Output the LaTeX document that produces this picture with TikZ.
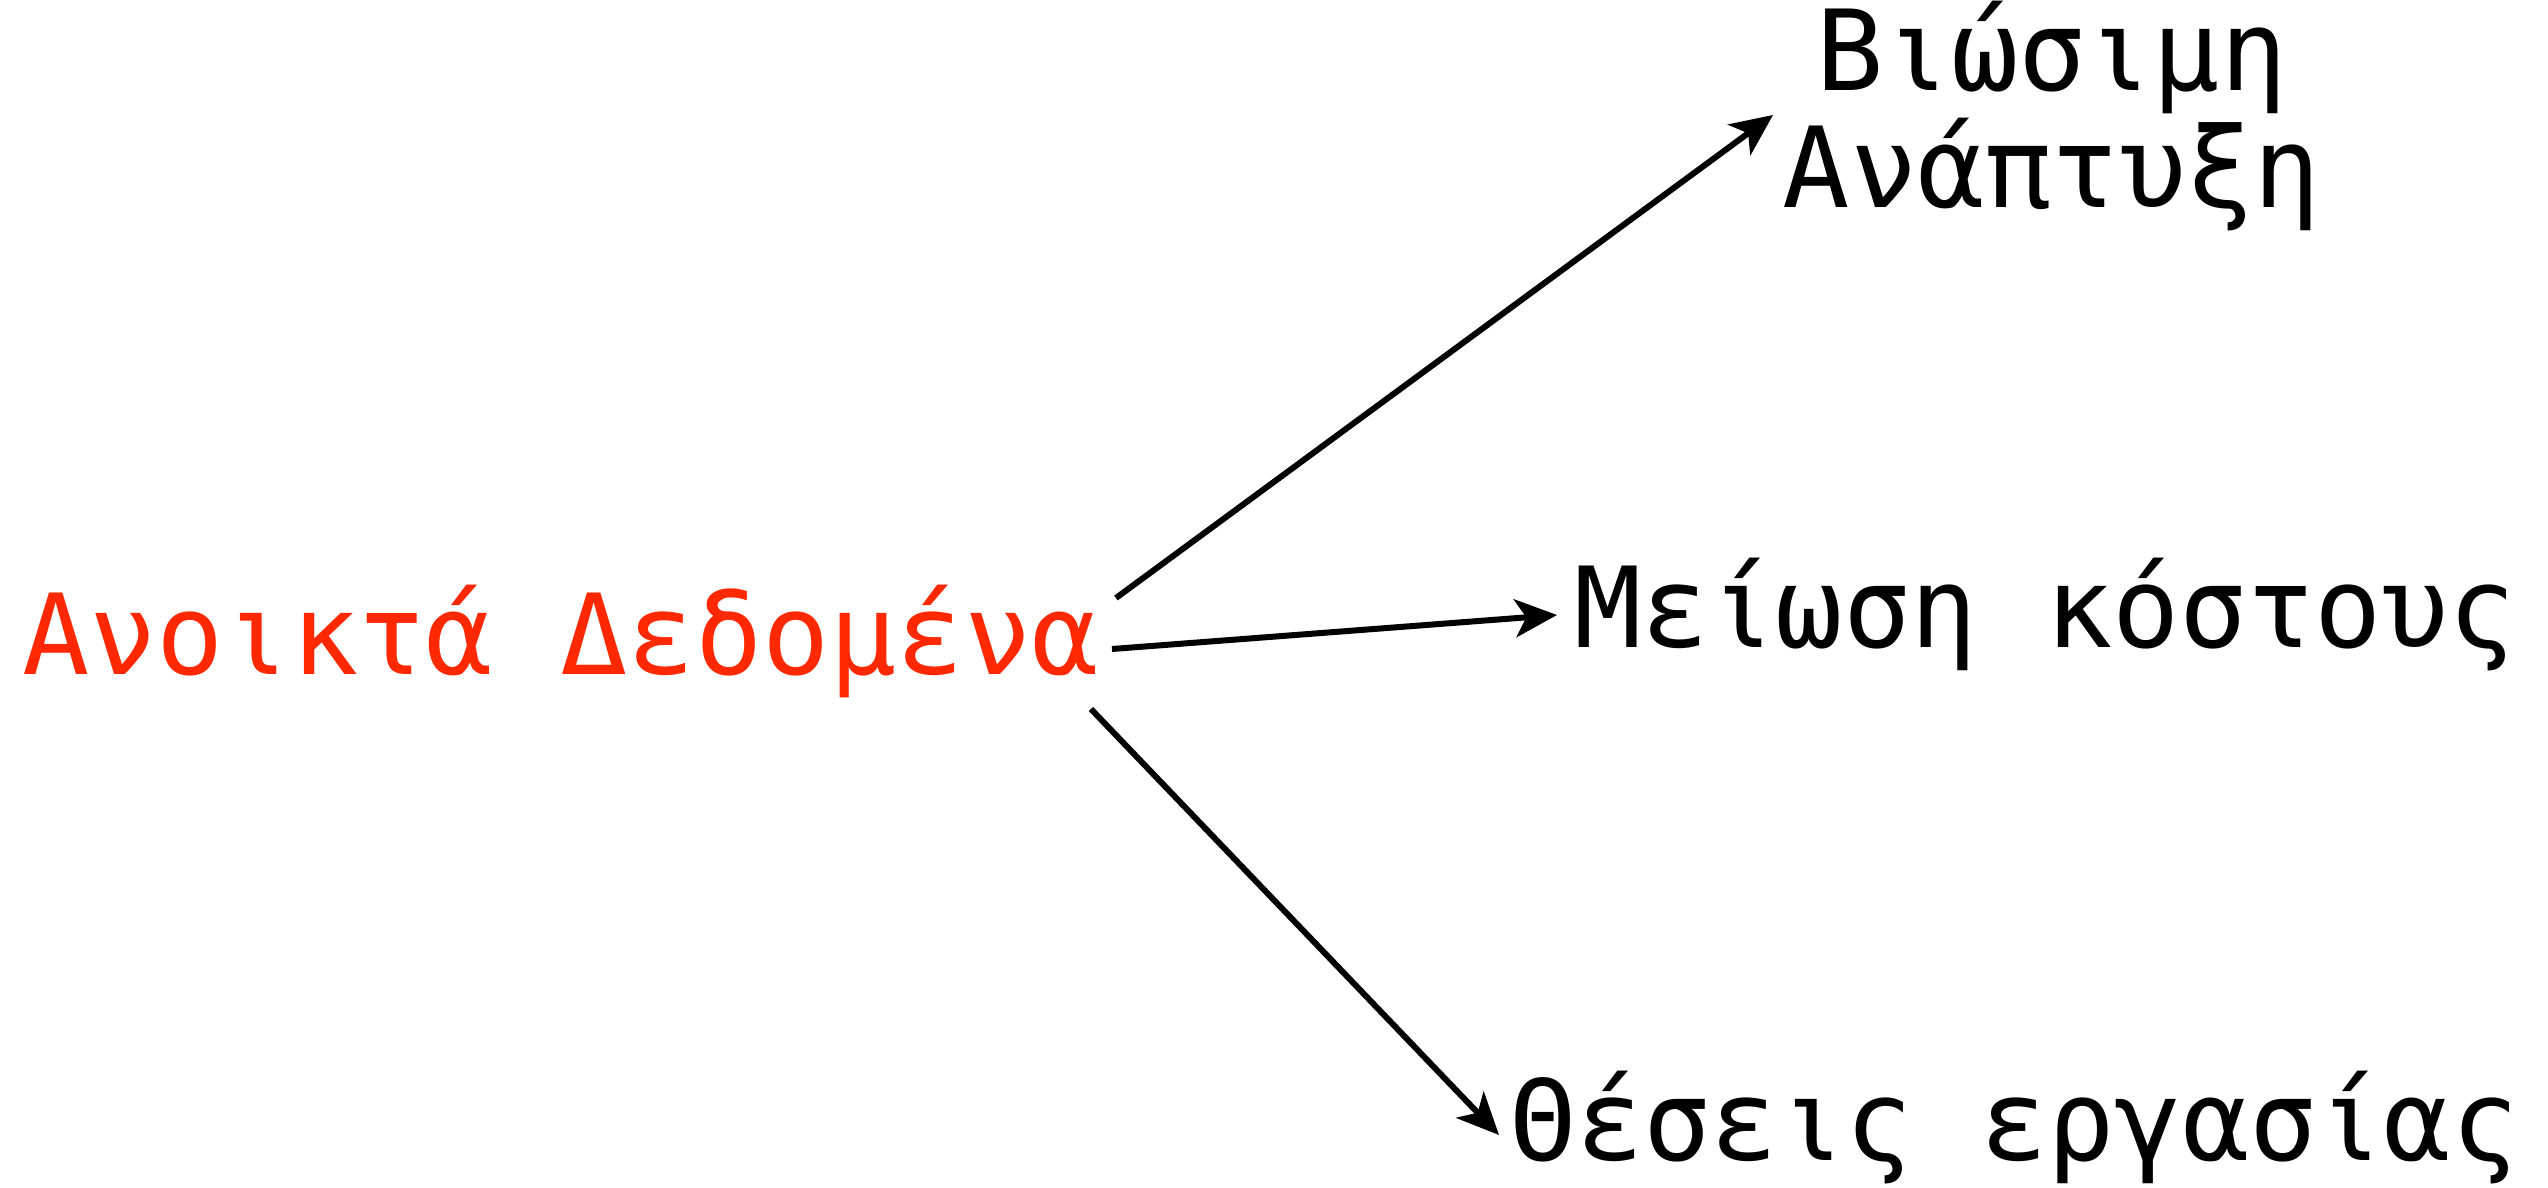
\documentclass[tikz,border=0pt]{standalone}
\usepackage{fontspec}
\newfontfamily\pixfont{DejaVu Sans Mono}
\usetikzlibrary{arrows.meta}
\definecolor{odred}{RGB}{255,40,0}
\begin{document}
\begin{tikzpicture}[x=0.25pt,y=-0.25pt,
  lbl/.style={font={\pixfont\fontsize{27.95pt}{26pt}\selectfont}, inner sep=0pt, outer sep=0pt},
  arr/.style={line width=1.5pt, -{Stealth[length=10.5pt,width=9.5pt,inset=2.8pt]}}]
\useasboundingbox (0,0) rectangle (2548,1188);
\node[lbl, text=odred, anchor=base west] (src) at (22,674) {Ανοικτά Δεδομένα};
\node[lbl, align=center, anchor=base] (top) at (2052,207) {Βιώσιμη\\Ανάπτυξη};
\node[lbl, anchor=base west] (mid) at (1574,647) {Μείωση κόστους};
\node[lbl, anchor=base west] (bot) at (1509,1160) {Θέσεις εργασίας};
\draw[arr] ([shift={(17,-76)}]src.base east) -- ([shift={(-279,-92)}]top.base);
\draw[arr] ([shift={(13,-25)}]src.base east) -- ([shift={(-17,-32)}]mid.base west);
\draw[arr] ([shift={(-8,35)}]src.base east) -- ([shift={(-10,-25)}]bot.base west);
\end{tikzpicture}
\end{document}
